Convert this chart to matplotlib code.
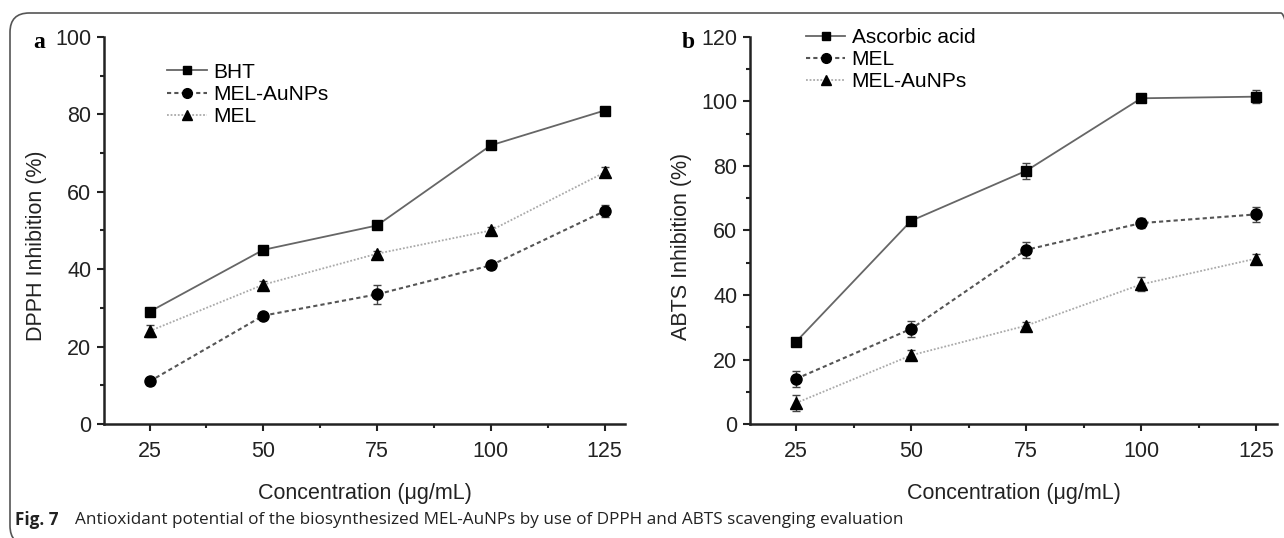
import matplotlib
matplotlib.use("Agg")
import matplotlib.pyplot as plt
from matplotlib.patches import FancyBboxPatch
from matplotlib.lines import Line2D
from matplotlib.ticker import MultipleLocator

plt.rcParams['font.family'] = ['Liberation Sans', 'DejaVu Sans']

# data
conc = [25, 50, 75, 100, 125]

# panel a - DPPH
bht = [29, 45, 51.3, 72, 81]
bht_err = [0.8, 0.8, 0.8, 1.0, 0.8]
mel_au_a = [11, 28, 33.5, 41, 55]
mel_au_a_err = [0.8, 0.8, 2.5, 1.0, 1.5]
mel_a = [24, 36, 44, 50, 65]
mel_a_err = [1.5, 1.0, 0.8, 0.8, 1.3]

# panel b - ABTS
asc = [25.5, 63, 78.5, 101, 101.5]
asc_err = [1.0, 0.8, 2.5, 0.8, 2.0]
mel_b = [14, 29.5, 54, 62.3, 65]
mel_b_err = [2.5, 2.5, 2.5, 1.5, 2.3]
mel_au_b = [6.5, 21.3, 30.5, 43.3, 51.3]
mel_au_b_err = [2.5, 1.5, 1.2, 2.2, 1.5]

W, H = 1284, 538
fig = plt.figure(figsize=(W / 100, H / 100), dpi=100)

# frame around the figure
frame = FancyBboxPatch((10 / W, 1 - 545 / H), 1290 / W, 532 / H,
                       boxstyle="round,pad=0,rounding_size=0.015",
                       transform=fig.transFigure, fill=False,
                       edgecolor='#555555', linewidth=1.2, mutation_aspect=W / H)
fig.patches.append(frame)


def ax_box(x0, x1, y0, y1):
    return [x0 / W, 1 - y1 / H, (x1 - x0) / W, (y1 - y0) / H]


styles = [
    dict(ls='-', color='#666666', marker='s', ms=7, lw=1.3),
    dict(ls=(0, (2, 1.5)), color='#555555', marker='o', ms=8, lw=1.5),
    dict(ls=(0, (1, 1)), color='#aaaaaa', marker='^', ms=8, lw=1.3),
]


def draw(ax, series, ymax, ylabel, leg_anchor, ylab_x):
    handles = []
    for (y, e, lab), st in zip(series, styles):
        ax.errorbar(conc, y, yerr=e, ls=st['ls'], color=st['color'],
                    lw=st['lw'], marker=st['marker'], ms=st['ms'],
                    mfc='black', mec='black', ecolor='#444444', elinewidth=1,
                    capsize=3, capthick=1)
        handles.append(Line2D([], [], ls=st['ls'], color=st['color'], lw=st['lw'],
                              marker=st['marker'], ms=st['ms'] - 1,
                              mfc='black', mec='black', label=lab))
    ax.set_xlim(15, 129.5)
    ax.set_ylim(0, ymax)
    ax.xaxis.set_major_locator(MultipleLocator(25))
    ax.xaxis.set_minor_locator(MultipleLocator(12.5))
    ax.yaxis.set_major_locator(MultipleLocator(20))
    ax.yaxis.set_minor_locator(MultipleLocator(10))
    for s in ['top', 'right']:
        ax.spines[s].set_visible(False)
    for s in ['left', 'bottom']:
        ax.spines[s].set_linewidth(1.8)
        ax.spines[s].set_color('#222222')
    ax.tick_params(which='major', direction='out', length=5, width=1.5,
                   labelsize=15.5, colors='#222222', pad=7)
    ax.tick_params(axis='y', which='major', pad=4)
    ax.tick_params(which='minor', direction='out', length=3, width=1.5,
                   colors='#222222')
    ax.set_xlabel('Concentration (μg/mL)', fontsize=15.5, labelpad=15, color='#222222')
    ax.set_ylabel(ylabel, fontsize=15.5, color='#222222')
    ax.yaxis.set_label_coords(ylab_x, 0.46)
    ax.legend(handles=handles, loc='upper left', bbox_to_anchor=leg_anchor,
              frameon=False, fontsize=15, handlelength=1.9, handletextpad=0.3,
              labelspacing=0.15, borderaxespad=0)


ax1 = fig.add_axes(ax_box(104, 625, 37, 424))
draw(ax1, [(bht, bht_err, 'BHT'), (mel_au_a, mel_au_a_err, 'MEL-AuNPs'),
           (mel_a, mel_a_err, 'MEL')], 100, 'DPPH Inhibition (%)', (0.105, 0.955),
     -0.11)

ax2 = fig.add_axes(ax_box(750, 1277, 37, 424))
draw(ax2, [(asc, asc_err, 'Ascorbic acid'), (mel_b, mel_b_err, 'MEL'),
           (mel_au_b, mel_au_b_err, 'MEL-AuNPs')], 120, 'ABTS Inhibition (%)',
     (0.09, 1.045), -0.11)

fig.text(33 / W, 1 - 42 / H, 'a', fontsize=17, fontweight='bold',
         family='Liberation Serif', va='center')
fig.text(682 / W, 1 - 42 / H, 'b', fontsize=17, fontweight='bold',
         family='Liberation Serif', va='center')

fig.text(15 / W, 1 - 520 / H, 'Fig. 7', fontsize=12.3, fontweight='bold',
         family='Open Sans', va='center', color='#222222')
fig.text(75 / W, 1 - 520 / H,
         'Antioxidant potential of the biosynthesized MEL-AuNPs by use of DPPH and ABTS scavenging evaluation',
         fontsize=12.3, family='Open Sans', va='center', color='#222222')

fig.savefig('out.png', dpi=100)
